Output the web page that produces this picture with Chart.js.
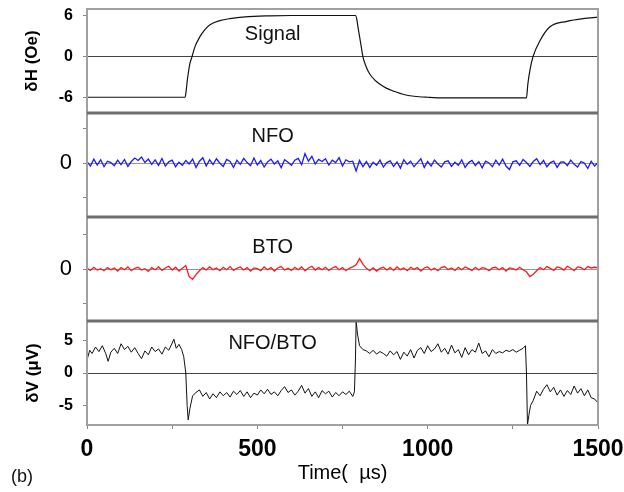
<!DOCTYPE html>
<html>
<head>
<meta charset="utf-8">
<script src="https://cdn.jsdelivr.net/npm/chart.js@4.4.1/dist/chart.umd.min.js"></script>
<style>
  body { margin: 0; background: #fff; }
</style>
</head>
<body>
<canvas id="myChart" width="624" height="492"></canvas>
<script>
// top panel: field signal dH (Oe) vs time (us)
const signalTime = [0, 100, 200, 288, 291, 294, 297, 302, 308, 317, 332, 346, 361, 390, 420, 464, 537, 600, 700, 788,
  792, 795, 800, 805, 810, 820, 830, 845, 860, 880, 900, 930, 960, 1000, 1050, 1150, 1290, 1294, 1300, 1309,
  1330, 1359, 1409, 1456, 1500];
const signalH = [-5.9, -5.9, -5.9, -5.9, -5.0, -3.6, -2.5, -1.0, 0.0, 1.5, 3.0, 4.0, 4.7, 5.3, 5.6, 5.85, 6.0, 6.05, 6.05, 6.05,
  5.5, 4.5, 3.0, 1.5, 0.0, -1.5, -2.5, -3.4, -4.0, -4.6, -5.0, -5.5, -5.75, -5.9, -6.0, -6.0, -6.0, -4.0, -2.0, 0.0,
  2.4, 4.4, 5.2, 5.6, 5.8];

// NFO and BTO traces, sampled every 10 us
const traceTime = [0, 10, 20, 30, 40, 50, 60, 70, 80, 90, 100, 110, 120, 130, 140, 150, 160, 170, 180, 190,
  200, 210, 220, 230, 240, 250, 260, 270, 280, 290, 300, 310, 320, 330, 340, 350, 360, 370, 380, 390,
  400, 410, 420, 430, 440, 450, 460, 470, 480, 490, 500, 510, 520, 530, 540, 550, 560, 570, 580, 590,
  600, 610, 620, 630, 640, 650, 660, 670, 680, 690, 700, 710, 720, 730, 740, 750, 760, 770, 780, 790,
  800, 810, 820, 830, 840, 850, 860, 870, 880, 890, 900, 910, 920, 930, 940, 950, 960, 970, 980, 990,
  1000, 1010, 1020, 1030, 1040, 1050, 1060, 1070, 1080, 1090, 1100, 1110, 1120, 1130, 1140, 1150, 1160, 1170, 1180, 1190,
  1200, 1210, 1220, 1230, 1240, 1250, 1260, 1270, 1280, 1290, 1300, 1310, 1320, 1330, 1340, 1350, 1360, 1370, 1380, 1390,
  1400, 1410, 1420, 1430, 1440, 1450, 1460, 1470, 1480, 1490, 1500];
const nfoTrace = [0.05, -0.08, 0.12, -0.05, 0.10, -0.10, 0.06, 0.02, -0.07, 0.09,
  -0.04, 0.11, -0.09, 0.05, 0.15, 0.08, 0.18, 0.02, 0.12, -0.03,
  0.10, -0.06, 0.14, -0.08, 0.04, 0.09, -0.10, 0.03, -0.06, 0.08,
  -0.02, 0.12, -0.12, 0.06, 0.16, -0.08, 0.10, -0.04, 0.13, 0.00,
  -0.09, 0.11, 0.05, -0.12, 0.09, -0.03, 0.14, 0.02, -0.07, 0.15,
  -0.05, 0.08, -0.11, 0.04, 0.12, -0.02, 0.07, -0.13, 0.10, 0.03,
  -0.06, 0.09, 0.14, -0.04, 0.28, 0.06, 0.20, -0.02, 0.11, 0.05,
  0.13, -0.05, 0.09, 0.02, 0.16, -0.08, 0.10, 0.04, 0.06, -0.22,
  0.08, -0.10, 0.05, -0.12, 0.03, -0.06, 0.09, -0.11, 0.02, 0.07,
  -0.09, 0.04, -0.14, 0.10, -0.03, 0.06, -0.10, 0.02, 0.13, -0.12,
  0.05, -0.08, 0.09, -0.02, -0.11, 0.04, 0.07, -0.09, 0.03, -0.06,
  0.10, -0.12, 0.02, 0.08, -0.07, 0.05, -0.13, 0.06, 0.01, -0.10,
  0.09, -0.05, 0.12, -0.08, -0.18, 0.04, 0.07, -0.06, 0.11, 0.02,
  -0.09, 0.05, 0.13, -0.04, 0.08, -0.10, 0.02, 0.06, -0.12, 0.03,
  0.04, -0.07, 0.09, -0.03, -0.11, 0.05, 0.01, -0.15, 0.06, -0.08,
  0.02];
const btoTrace = [0.02, -0.04, 0.05, -0.03, 0.01, -0.05, 0.04, -0.02, 0.03, -0.06,
  0.04, -0.02, 0.06, -0.05, 0.02, 0.05, -0.03, 0.01, -0.07, 0.04,
  -0.02, 0.06, -0.04, 0.03, 0.08, -0.03, 0.05, -0.06, 0.02, 0.10,
  -0.22, -0.30, -0.16, -0.05, 0.04, -0.03, 0.06, -0.02, 0.03, -0.05,
  0.05, -0.02, 0.07, -0.04, 0.02, 0.06, -0.03, 0.04, -0.06, 0.03,
  0.01, -0.05, 0.06, -0.02, 0.04, -0.06, 0.03, 0.07, -0.03, 0.02,
  -0.04, 0.05, -0.02, 0.06, -0.05, 0.03, 0.08, -0.03, 0.04, -0.02,
  0.05, -0.04, 0.03, 0.07, -0.02, 0.04, -0.05, 0.02, 0.06, 0.12,
  0.30, 0.14, 0.02, -0.05, 0.03, -0.06, 0.02, 0.05, -0.03, 0.04,
  -0.04, 0.06, -0.02, 0.03, -0.05, 0.05, -0.01, 0.04, -0.06, 0.03,
  0.06, -0.03, 0.02, -0.05, 0.04, 0.07, -0.02, 0.03, -0.04, 0.05,
  -0.02, 0.06, 0.01, -0.04, 0.05, -0.03, 0.04, 0.02, -0.05, 0.03,
  0.05, -0.02, 0.04, -0.06, 0.03, 0.01, -0.03, 0.05, -0.02, -0.08,
  -0.22, -0.15, -0.05, 0.04, -0.02, 0.07, 0.02, -0.04, 0.06, 0.03,
  -0.03, 0.08, 0.02, -0.05, 0.06, 0.04, -0.02, 0.07, 0.03, 0.05,
  0.04];

// bottom panel: NFO/BTO voltage dV (uV)
const mixTime = [0, 8, 15, 25, 35, 45, 55, 62, 70, 80, 90, 100, 110, 120, 130, 140, 150, 160, 170, 180,
  190, 200, 210, 220, 230, 240, 250, 255, 262, 270, 278, 284, 290, 294, 297, 302, 310, 320, 330, 340,
  350, 360, 370, 380, 390, 400, 410, 420, 430, 440, 450, 460, 470, 480, 490, 500, 510, 520, 530, 540,
  550, 560, 570, 580, 590, 600, 610, 620, 630, 640, 650, 660, 670, 680, 690, 700, 710, 720, 730, 740,
  750, 760, 770, 780, 785, 788, 790, 794, 800, 810, 820, 830, 840, 850, 860, 870, 880, 890, 900, 910,
  920, 930, 940, 950, 960, 970, 980, 990, 1000, 1010, 1020, 1030, 1040, 1050, 1060, 1070, 1080, 1090, 1100, 1110,
  1120, 1130, 1140, 1150, 1160, 1170, 1180, 1190, 1200, 1210, 1220, 1230, 1240, 1250, 1260, 1270, 1280, 1287, 1290, 1293,
  1297, 1302, 1310, 1320, 1330, 1340, 1350, 1360, 1370, 1380, 1390, 1400, 1410, 1420, 1430, 1440, 1450, 1460, 1470, 1480,
  1490, 1500];
const mixV = [2.0, 3.5, 3.0, 4.0, 3.3, 4.2, 3.0, 1.8, 3.2, 3.8, 3.0, 4.5, 3.6, 4.1, 3.2, 3.9, 3.0, 2.2, 3.4, 2.8,
  4.0, 3.3, 3.7, 2.9, 4.0, 3.5, 4.6, 5.2, 3.8, 4.4, 3.6, 2.5, 0.0, -5.0, -7.2, -5.5, -3.5, -3.0, -2.6, -3.6,
  -3.0, -4.0, -3.2, -3.8, -2.9, -3.5, -3.0, -3.7, -2.8, -3.3, -2.7, -3.6, -2.9, -3.8, -3.1, -3.4, -2.6, -3.2, -2.5, -3.3,
  -2.9, -3.5, -2.7, -2.1, -3.0, -2.6, -3.4, -2.8, -1.9, -3.1, -2.4, -3.6, -2.9, -3.8, -2.7, -3.2, -2.8, -3.7, -3.0, -3.5,
  -2.9, -3.3, -2.8, -3.6, -2.9, 2.0, 8.0, 6.0, 4.2, 3.6, 3.4, 3.0, 3.5, 2.9, 3.3, 3.0, 2.6, 3.4, 2.8, 3.3,
  2.1, 3.2, 2.6, 3.6, 2.3, 3.5, 3.9, 3.0, 4.2, 3.3, 3.7, 4.5, 3.2, 3.8, 2.9, 4.3, 3.1, 3.6, 2.4, 3.9,
  2.8, 3.6, 3.2, 4.6, 3.0, 3.4, 2.5, 3.6, 3.0, 3.3, 3.1, 3.5, 3.3, 3.6, 3.2, 3.5, 3.8, 4.2, 0.0, -8.0,
  -6.5, -5.0, -4.2, -2.8, -3.5, -2.5, -1.8, -2.9, -2.2, -3.4, -2.6, -3.6, -2.7, -3.3, -2.0, -3.1, -2.4, -3.5, -2.6, -3.8,
  -4.0, -4.6];

const panelNames = ["Signal", "NFO", "BTO", "NFO/BTO"];
const timeTicks = [0, 250, 500, 750, 1000, 1250, 1500];
const timeLabels = [0, 500, 1000, 1500];
const hTicks = [-6, -3, 0, 3, 6];
const hLabels = [-6, 0, 6];
const vTicks = [-5, 0, 5];
const traceTicks = [-1, 0, 1];

Chart.defaults.font.family = '"Liberation Sans", Arial, sans-serif';
Chart.defaults.color = "#000";

const pts = (xs, ys) => xs.map((x, i) => ({ x: x, y: ys[i] }));
const setTicks = list => s => { s.ticks = list.map(v => ({ value: v })); };
const zeroGrid = col => ctx => (ctx.tick && ctx.tick.value === 0 ? col : "rgba(0,0,0,0)");
// fixed box sizes, and no extra room for the end labels
const fixBox = (w, h) => s => {
  if (w) s.width = w;
  if (h) s.height = h;
  s.paddingTop = s.paddingBottom = s.paddingLeft = s.paddingRight = 0;
};

const panelAxes = ["yH", "yNFO", "yBTO", "yV"];
const labelDrop = [25, 23, 30, 22];

const panels = {
  id: "panels",
  afterDatasetsDraw(chart) {
    const { ctx, chartArea: a, scales } = chart;
    ctx.save();
    ctx.strokeStyle = "#a0a0a0";
    ctx.lineWidth = 2;
    ctx.strokeRect(a.left, a.top, a.width, a.height);
    ctx.strokeStyle = "#6e6e6e";
    ctx.lineWidth = 3;
    ["yNFO", "yBTO", "yV"].forEach(id => {
      const y = Math.round(scales[id].top);
      ctx.beginPath();
      ctx.moveTo(a.left, y);
      ctx.lineTo(a.right, y);
      ctx.stroke();
    });

    ctx.fillStyle = "#111";
    ctx.font = '20px "Liberation Sans", Arial, sans-serif';
    ctx.textAlign = "center";
    ctx.textBaseline = "middle";
    const x = scales.x.getPixelForValue(545);
    panelAxes.forEach((id, i) => {
      ctx.fillText(panelNames[i], x, scales[id].top + labelDrop[i]);
    });

    ctx.font = '18px "Liberation Sans", Arial, sans-serif';
    ctx.textAlign = "left";
    ctx.fillText("(b)", 11, 477);
    ctx.restore();
  }
};

new Chart(document.getElementById("myChart"), {
  type: "line",
  data: {
    datasets: [
      { data: pts(signalTime, signalH), yAxisID: "yH", borderColor: "#111", borderWidth: 1.2, cubicInterpolationMode: "monotone" },
      { data: pts(traceTime, nfoTrace), yAxisID: "yNFO", borderColor: "#1a1aff", borderWidth: 1.3 },
      { data: pts(traceTime, btoTrace), yAxisID: "yBTO", borderColor: "#ff1a1a", borderWidth: 1.3 },
      { data: pts(mixTime, mixV), yAxisID: "yV", borderColor: "#111", borderWidth: 1 }
    ]
  },
  options: {
    responsive: false,
    animation: false,
    elements: { point: { radius: 0 }, line: { tension: 0 } },
    layout: { padding: { top: 9, right: 26, left: 0, bottom: 0 } },
    plugins: { legend: { display: false }, tooltip: { enabled: false } },
    scales: {
      x: {
        type: "linear", min: 0, max: 1500,
        afterBuildTicks: setTicks(timeTicks),
        afterFit: fixBox(0, 67),
        ticks: {
          callback: v => (timeLabels.includes(v) ? v : ""),
          font: { size: 23, weight: "bold" }, padding: 7, maxRotation: 0, autoSkip: false
        },
        grid: { drawOnChartArea: false, tickLength: 4, tickColor: "#888" },
        border: { display: false },
        title: { display: true, text: "Time(  µs)", font: { size: 20 }, padding: { top: 0, bottom: 7 } }
      },
      yV: {
        type: "linear", min: -8, max: 8, stack: "p", stackWeight: 1, weight: 1,
        afterBuildTicks: setTicks(vTicks),
        afterFit: fixBox(87, 0),
        ticks: { font: { size: 16, weight: "bold" }, padding: 10 },
        grid: { color: zeroGrid("#444"), tickColor: "#888", tickLength: 4 },
        border: { display: false },
        title: { display: true, text: "δV (μV)", font: { size: 17, weight: "bold" }, padding: { top: 23, bottom: 0 } }
      },
      yBTO: {
        type: "linear", min: -1.5, max: 1.5, stack: "p", stackWeight: 1, weight: 2,
        afterBuildTicks: setTicks(traceTicks),
        afterFit: fixBox(87, 0),
        ticks: { callback: v => (v === 0 ? "0" : ""), font: { size: 22 }, padding: 11 },
        grid: { color: zeroGrid("#999"), tickColor: "#888", tickLength: 4 },
        border: { display: false }
      },
      yNFO: {
        type: "linear", min: -1.55, max: 1.45, stack: "p", stackWeight: 1, weight: 3,
        afterBuildTicks: setTicks(traceTicks),
        afterFit: fixBox(87, 0),
        ticks: { callback: v => (v === 0 ? "0" : ""), font: { size: 22 }, padding: 11 },
        grid: { color: zeroGrid("#999"), tickColor: "#888", tickLength: 4 },
        border: { display: false }
      },
      yH: {
        type: "linear", min: -8.2, max: 7, stack: "p", stackWeight: 1, weight: 4,
        afterBuildTicks: setTicks(hTicks),
        afterFit: fixBox(87, 0),
        ticks: { callback: v => (hLabels.includes(v) ? v : ""), font: { size: 16, weight: "bold" }, padding: 10 },
        grid: { color: zeroGrid("#444"), tickColor: "#888", tickLength: 4 },
        border: { display: false },
        title: { display: true, text: "δH (Oe)", font: { size: 17, weight: "bold" }, padding: { top: 22, bottom: 0 } }
      }
    }
  },
  plugins: [panels]
});
</script>
</body>
</html>
